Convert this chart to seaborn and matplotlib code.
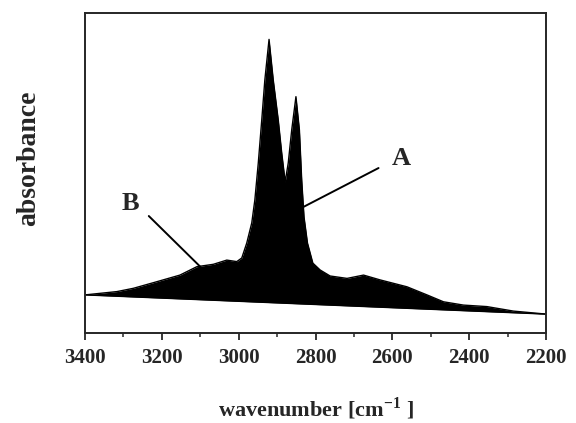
import numpy as np
import pandas as pd
import matplotlib.pyplot as plt
import seaborn as sns

# spectrum (arbitrary absorbance units)
wavenumber = [3400, 3317, 3274, 3213, 3153, 3109, 3066, 3031, 3005, 2992,
              2979, 2966, 2958, 2949, 2940, 2932, 2921, 2910, 2897, 2888,
              2879, 2871, 2862, 2851, 2842, 2836, 2830, 2821, 2807, 2788,
              2762, 2718, 2675, 2632, 2562, 2510, 2467, 2415, 2354, 2285, 2200]
absorbance = [0.127, 0.138, 0.149, 0.171, 0.193, 0.221, 0.229, 0.243, 0.238, 0.250,
              0.300, 0.367, 0.443, 0.567, 0.710, 0.843, 0.979, 0.843, 0.710, 0.600,
              0.504, 0.567, 0.677, 0.788, 0.677, 0.510, 0.387, 0.300, 0.233, 0.210,
              0.190, 0.182, 0.193, 0.177, 0.154, 0.127, 0.104, 0.093, 0.088, 0.073, 0.063]

# straight baseline under the band
base_x = [3400, 2200]
base_y = [0.127, 0.063]

xticks = [3400, 3200, 3000, 2800, 2600, 2400, 2200]

df = pd.DataFrame({'wavenumber': wavenumber, 'absorbance': absorbance})
df['baseline'] = np.interp(df['wavenumber'], base_x[::-1], base_y[::-1])

sns.set_style('ticks')
plt.rcParams['font.family'] = ['Liberation Serif', 'DejaVu Serif']
plt.rcParams['font.weight'] = 'bold'
plt.rcParams['mathtext.fontset'] = 'custom'
plt.rcParams['mathtext.bf'] = 'Liberation Serif:bold'
plt.rcParams['mathtext.rm'] = 'Liberation Serif:bold'

fig = plt.figure(figsize=(5.76, 4.23), dpi=100)
ax = fig.add_axes([0.1476, 0.2128, 0.8004, 0.7565])

sns.lineplot(data=df, x='wavenumber', y='absorbance', color='black', lw=1, ax=ax)
sns.lineplot(x=base_x, y=base_y, color='black', lw=1, ax=ax)
ax.fill_between(df['wavenumber'], df['baseline'], df['absorbance'], color='black', lw=0)

ax.set_xlim(3400, 2200)
ax.set_ylim(0, 1.067)
ax.set_xticks(xticks)
ax.set_xticks(np.arange(3300, 2200, -200), minor=True)
ax.set_yticks([])
ax.tick_params(axis='x', which='major', direction='out', length=5, width=1.3,
               labelsize=15, pad=6)
ax.tick_params(axis='x', which='minor', direction='out', length=3, width=1.1)
for lbl in ax.get_xticklabels():
    lbl.set_fontweight('bold')
for s in ax.spines.values():
    s.set_linewidth(1.4)
    s.set_visible(True)

ax.set_xlabel('wavenumber [cm$^{\\mathbf{-1}}$ ]', fontsize=16, fontweight='bold')
ax.xaxis.set_label_coords(0.5, -0.195)
ax.set_ylabel('absorbance', fontsize=20, fontweight='bold')
ax.yaxis.set_label_coords(-0.095, 0.547)

# labels with leader lines
ax.plot([2636, 2832], [0.550, 0.420], color='black', lw=1.4)
ax.text(2577, 0.583, 'A', fontsize=19, fontweight='bold', ha='center', va='center')
ax.plot([3234, 3100], [0.390, 0.221], color='black', lw=1.4)
ax.text(3283, 0.433, 'B', fontsize=19, fontweight='bold', ha='center', va='center')

fig.savefig('out.png', dpi=100)
